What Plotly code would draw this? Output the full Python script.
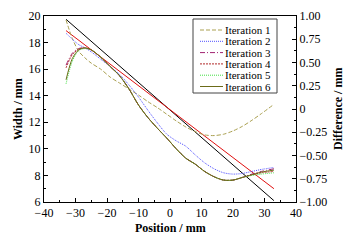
import plotly.graph_objects as go

# ---- data ----
pos = [-33, -31, -29, -27, -25, -22, -19, -16, -13, -10, -7, -4, -1, 2, 5, 8, 11, 14, 17, 20, 23, 26, 29, 33]

iter1 = [19.7, 18.3, 17.35, 16.85, 16.45, 16.0, 15.4, 14.95, 14.5, 14.05, 13.55, 13.1, 12.6, 12.1, 11.65, 11.3, 11.05, 11.0, 11.1, 11.35, 11.7, 12.15, 12.65, 13.35]
iter2 = [18.7, 18.25, 17.85, 17.6, 17.3, 16.75, 16.2, 15.6, 14.8, 13.9, 12.9, 11.95, 11.1, 10.6, 10.2, 9.55, 8.95, 8.5, 8.2, 8.1, 8.15, 8.3, 8.45, 8.6]
iter3 = [16.3, 17.2, 17.55, 17.6, 17.45, 16.9, 16.2, 15.5, 14.5, 13.3, 12.35, 11.55, 10.8, 10.0, 9.3, 8.85, 8.3, 7.9, 7.65, 7.65, 7.85, 8.1, 8.3, 8.5]
iter4 = [16.1, 17.1, 17.5, 17.6, 17.45, 16.9, 16.2, 15.5, 14.5, 13.3, 12.35, 11.55, 10.8, 10.0, 9.3, 8.85, 8.3, 7.9, 7.65, 7.65, 7.85, 8.05, 8.2, 8.3]
iter5 = [14.9, 16.6, 17.4, 17.55, 17.45, 16.9, 16.2, 15.5, 14.5, 13.3, 12.35, 11.55, 10.8, 10.0, 9.3, 8.85, 8.3, 7.9, 7.65, 7.65, 7.85, 8.0, 8.1, 8.2]
iter6 = [15.2, 16.8, 17.45, 17.6, 17.45, 16.9, 16.2, 15.5, 14.5, 13.3, 12.35, 11.55, 10.8, 10.0, 9.3, 8.85, 8.3, 7.9, 7.65, 7.65, 7.85, 8.05, 8.25, 8.4]

line_x = [-33, 33]
black_line = [19.75, 6.1]
red_line = [18.9, 7.0]

names = ["Iteration 1", "Iteration 2", "Iteration 3", "Iteration 4", "Iteration 5", "Iteration 6"]
series = [iter1, iter2, iter3, iter4, iter5, iter6]
colors = ["#aaa050", "#5050ff", "#a02070", "#b02828", "#40e040", "#6b6b18"]
dashes = ["4px,2px", "1px,1px", "5px,2px,1px,2px", "2px,1px", "1px,1px", "solid"]

xticks = [-40, -30, -20, -10, 0, 10, 20, 30, 40]
xticktext = ["−40", "−30", "−20", "−10", "0", "10", "20", "30", "40"]
yticks = [6, 8, 10, 12, 14, 16, 18, 20]
y2ticks = [-1.0, -0.75, -0.5, -0.25, 0, 0.25, 0.5, 0.75, 1.0]
y2text = ["−1.00", "−0.75", "−0.50", "−0.25", "0", "0.25", "0.50", "0.75", "1.00"]

FONT = "Liberation Serif"

# page has an 8px body margin; plot area in page pixels: x 44..296, y 16..202
fig = go.Figure()
fig.add_trace(go.Scatter(x=line_x, y=black_line, mode="lines", line=dict(color="black", width=1), showlegend=False))
fig.add_trace(go.Scatter(x=line_x, y=red_line, mode="lines", line=dict(color="#e01010", width=1), showlegend=False))
for n, s, c, d in zip(names, series, colors, dashes):
    fig.add_trace(go.Scatter(x=pos, y=s, name=n, mode="lines", showlegend=False,
                             line=dict(color=c, width=1, dash=d, shape="spline", smoothing=0.8)))
fig.add_trace(go.Scatter(x=[None], y=[None], yaxis="y2", showlegend=False, hoverinfo="skip"))

def px_x(p):
    return (p - 44) / 252.0

def px_y(p):
    return (202 - p) / 186.0

shapes = [dict(type="rect", xref="paper", yref="paper", x0=px_x(193), x1=px_x(277), y0=px_y(93), y1=px_y(19),
               line=dict(color="#444444", width=1), fillcolor="white", layer="above")]
annotations = []
item_y = [30, 41.3, 52.6, 63.9, 75.2, 86.5]
for n, c, d, yy in zip(names, colors, dashes, item_y):
    shapes.append(dict(type="line", xref="paper", yref="paper", x0=px_x(200), x1=px_x(223),
                       y0=px_y(yy), y1=px_y(yy), line=dict(color=c, width=1, dash=d), layer="above"))
    annotations.append(dict(xref="paper", yref="paper", x=px_x(224), y=px_y(yy), text=n, showarrow=False,
                            xanchor="left", yanchor="middle", borderpad=0,
                            font=dict(family=FONT, size=11, color="black")))

annotations.append(dict(xref="paper", yref="paper", x=0.5, y=px_y(228), text="<b>Position / mm</b>",
                        showarrow=False, xanchor="center", yanchor="middle", borderpad=0,
                        font=dict(family=FONT, size=12)))
annotations.append(dict(xref="paper", yref="paper", x=px_x(18), y=0.5, text="<b>Width / mm</b>", textangle=-90,
                        showarrow=False, xanchor="center", yanchor="middle", font=dict(family=FONT, size=12)))
annotations.append(dict(xref="paper", yref="paper", x=px_x(338), y=0.5, text="<b>Difference / mm</b>", textangle=-90,
                        showarrow=False, xanchor="center", yanchor="middle", font=dict(family=FONT, size=12)))

axis_common = dict(showline=True, linecolor="black", linewidth=1, ticks="inside", ticklen=4,
                   tickcolor="black", showgrid=False, zeroline=False, automargin=False,
                   tickfont=dict(family=FONT, size=12, color="black"))

fig.update_layout(
    width=341, height=227,
    margin=dict(l=36, r=53, t=8, b=33, autoexpand=False),
    paper_bgcolor="white", plot_bgcolor="white",
    font=dict(family=FONT, size=12, color="black"),
    showlegend=False,
    shapes=shapes, annotations=annotations,
    xaxis=dict(range=[-40, 40], tickvals=xticks, ticktext=xticktext, mirror=True,
               minor=dict(ticks="inside", ticklen=2, dtick=5, tickcolor="black"),
               **axis_common),
    yaxis=dict(range=[6, 20], tickvals=yticks, mirror=False,
               minor=dict(ticks="inside", ticklen=2, dtick=1, tickcolor="black"),
               **axis_common),
    yaxis2=dict(range=[-1, 1], overlaying="y", side="right", tickvals=y2ticks, ticktext=y2text,
                minor=dict(ticks="inside", ticklen=2, dtick=0.125, tickcolor="black"),
                **axis_common),
)

fig.write_html("out.html")
